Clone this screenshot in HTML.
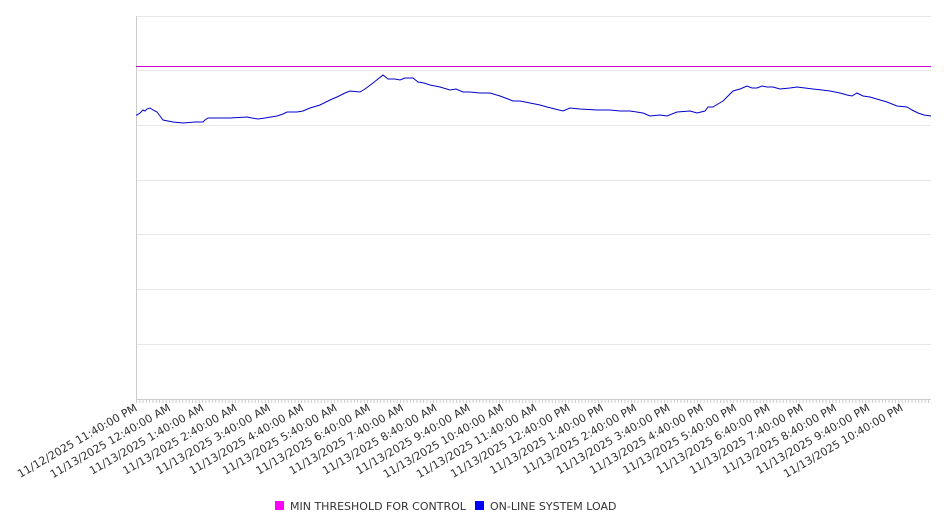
<!DOCTYPE html>
<html><head><meta charset="utf-8"><style>
html,body{margin:0;padding:0;background:#fff;}
svg{display:block;font-family:"DejaVu Sans","Liberation Sans",sans-serif;}
</style></head><body>
<svg width="946" height="526" viewBox="0 0 946 526" xmlns="http://www.w3.org/2000/svg">
<defs>
<pattern id="mt" x="136" y="0" width="3.3" height="10" patternUnits="userSpaceOnUse">
<rect x="0" y="0" width="1" height="10" fill="#ccc"/>
</pattern>
</defs>
<g stroke="#e8e8e8" stroke-width="1">
<line x1="136" x2="931" y1="16.5" y2="16.5"/>
<line x1="136" x2="931" y1="70.5" y2="70.5"/>
<line x1="136" x2="931" y1="125.5" y2="125.5"/>
<line x1="136" x2="931" y1="180.5" y2="180.5"/>
<line x1="136" x2="931" y1="234.5" y2="234.5"/>
<line x1="136" x2="931" y1="289.5" y2="289.5"/>
<line x1="136" x2="931" y1="344.5" y2="344.5"/>
</g>
<line x1="136.5" x2="136.5" y1="16" y2="399" stroke="#ccc"/>
<line x1="136" x2="931" y1="399.5" y2="399.5" stroke="#ccc"/>
<rect x="136" y="400" width="795" height="3" fill="url(#mt)"/>
<line x1="136" x2="931" y1="66.5" y2="66.5" stroke="#d000d0" stroke-width="1"/>
<polyline fill="none" stroke="#0000cc" stroke-width="1" points="136,115 137,115 140,113 143,110 145,111 147,109 150,108 153,110 157,112 160,116 163,120 173,122 183,123 195,122 203,122 205,120 208,118 230,118 247,117 252,118 258,119 265,118 277,116 283,114 287,112 297,112 303,111 310,108 320,105 330,100 337,97 345,93 350,91 360,92 365,89 373,83 378,79 383,75 388,79 395,79 400,80 405,78 413,78 418,82 424,83 430,85 440,87 450,90 456,89 463,92 470,92 480,93 490,93 500,96 508,99 513,101 520,101 530,103 540,105 547,107 555,109 563,111 570,108 580,109 597,110 610,110 620,111 630,111 643,113 650,116 660,115 667,116 677,112 690,111 697,113 705,111 708,107 713,107 718,104 723,101 728,96 733,91 740,89 747,86 752,88 757,88 762,86 767,87 773,87 780,89 790,88 797,87 805,88 813,89 822,90 830,91 840,93 847,95 852,96 857,93 863,96 870,97 880,100 887,102 897,106 907,107 912,110 918,113 924,115 931,116"/>
<g font-size="11" fill="#333" text-anchor="end">
<text transform="translate(138,410) rotate(-30)">11/12/2025 11:40:00 PM</text>
<text transform="translate(171.3,410) rotate(-30)">11/13/2025 12:40:00 AM</text>
<text transform="translate(204.6,410) rotate(-30)">11/13/2025 1:40:00 AM</text>
<text transform="translate(237.9,410) rotate(-30)">11/13/2025 2:40:00 AM</text>
<text transform="translate(271.2,410) rotate(-30)">11/13/2025 3:40:00 AM</text>
<text transform="translate(304.5,410) rotate(-30)">11/13/2025 4:40:00 AM</text>
<text transform="translate(337.8,410) rotate(-30)">11/13/2025 5:40:00 AM</text>
<text transform="translate(371.1,410) rotate(-30)">11/13/2025 6:40:00 AM</text>
<text transform="translate(404.4,410) rotate(-30)">11/13/2025 7:40:00 AM</text>
<text transform="translate(437.7,410) rotate(-30)">11/13/2025 8:40:00 AM</text>
<text transform="translate(471,410) rotate(-30)">11/13/2025 9:40:00 AM</text>
<text transform="translate(504.3,410) rotate(-30)">11/13/2025 10:40:00 AM</text>
<text transform="translate(537.6,410) rotate(-30)">11/13/2025 11:40:00 AM</text>
<text transform="translate(570.9,410) rotate(-30)">11/13/2025 12:40:00 PM</text>
<text transform="translate(604.2,410) rotate(-30)">11/13/2025 1:40:00 PM</text>
<text transform="translate(637.5,410) rotate(-30)">11/13/2025 2:40:00 PM</text>
<text transform="translate(670.8,410) rotate(-30)">11/13/2025 3:40:00 PM</text>
<text transform="translate(704.1,410) rotate(-30)">11/13/2025 4:40:00 PM</text>
<text transform="translate(737.4,410) rotate(-30)">11/13/2025 5:40:00 PM</text>
<text transform="translate(770.7,410) rotate(-30)">11/13/2025 6:40:00 PM</text>
<text transform="translate(804,410) rotate(-30)">11/13/2025 7:40:00 PM</text>
<text transform="translate(837.3,410) rotate(-30)">11/13/2025 8:40:00 PM</text>
<text transform="translate(870.6,410) rotate(-30)">11/13/2025 9:40:00 PM</text>
<text transform="translate(903.9,410) rotate(-30)">11/13/2025 10:40:00 PM</text>
</g>
<rect x="275" y="501" width="9" height="9" fill="#ff00ff"/>
<text x="290" y="510" font-size="11" fill="#333">MIN THRESHOLD FOR CONTROL</text>
<rect x="475" y="501" width="9" height="9" fill="#0000ff"/>
<text x="490" y="510" font-size="11" fill="#333">ON-LINE SYSTEM LOAD</text>
</svg>
</body></html>
